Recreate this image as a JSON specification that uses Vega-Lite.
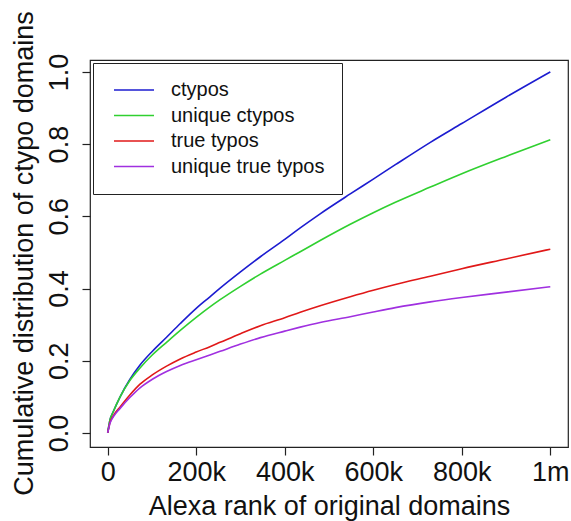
{
  "$schema": "https://vega.github.io/schema/vega-lite/v6.json",
  "autosize": {"type": "none"},
  "width": 478,
  "height": 387,
  "padding": {"left": 90, "top": 60, "right": 3, "bottom": 74},
  "background": "white",
  "config": {
    "view": {"stroke": "#222222", "strokeWidth": 1.2},
    "font": "Liberation Sans",
    "axis": {"grid": false, "domain": false, "tickColor": "#222222", "tickSize": 8, "tickWidth": 1.2,
             "labelFont": "Liberation Sans", "titleFont": "Liberation Sans",
             "labelFontSize": 27, "titleFontSize": 27, "labelColor": "#111111", "titleColor": "#111111",
             "titleFontWeight": "normal"}
  },
  "datasets": {
    "curves": [
      {"rank": 0, "frac": 0, "series": "ctypos"},
      {"rank": 5000, "frac": 0.035, "series": "ctypos"},
      {"rank": 13000, "frac": 0.06, "series": "ctypos"},
      {"rank": 28000, "frac": 0.10, "series": "ctypos"},
      {"rank": 50000, "frac": 0.148, "series": "ctypos"},
      {"rank": 73000, "frac": 0.188, "series": "ctypos"},
      {"rank": 100000, "frac": 0.225, "series": "ctypos"},
      {"rank": 133000, "frac": 0.265, "series": "ctypos"},
      {"rank": 164000, "frac": 0.303, "series": "ctypos"},
      {"rank": 200000, "frac": 0.345, "series": "ctypos"},
      {"rank": 231000, "frac": 0.377, "series": "ctypos"},
      {"rank": 254000, "frac": 0.401, "series": "ctypos"},
      {"rank": 300000, "frac": 0.446, "series": "ctypos"},
      {"rank": 345000, "frac": 0.488, "series": "ctypos"},
      {"rank": 400000, "frac": 0.536, "series": "ctypos"},
      {"rank": 435000, "frac": 0.568, "series": "ctypos"},
      {"rank": 480000, "frac": 0.607, "series": "ctypos"},
      {"rank": 548000, "frac": 0.662, "series": "ctypos"},
      {"rank": 600000, "frac": 0.703, "series": "ctypos"},
      {"rank": 650000, "frac": 0.743, "series": "ctypos"},
      {"rank": 729000, "frac": 0.805, "series": "ctypos"},
      {"rank": 800000, "frac": 0.857, "series": "ctypos"},
      {"rank": 900000, "frac": 0.93, "series": "ctypos"},
      {"rank": 1000000, "frac": 1.0, "series": "ctypos"},

      {"rank": 0, "frac": 0, "series": "unique ctypos"},
      {"rank": 5000, "frac": 0.035, "series": "unique ctypos"},
      {"rank": 13000, "frac": 0.06, "series": "unique ctypos"},
      {"rank": 28000, "frac": 0.10, "series": "unique ctypos"},
      {"rank": 50000, "frac": 0.145, "series": "unique ctypos"},
      {"rank": 73000, "frac": 0.18, "series": "unique ctypos"},
      {"rank": 100000, "frac": 0.215, "series": "unique ctypos"},
      {"rank": 133000, "frac": 0.251, "series": "unique ctypos"},
      {"rank": 164000, "frac": 0.284, "series": "unique ctypos"},
      {"rank": 200000, "frac": 0.32, "series": "unique ctypos"},
      {"rank": 231000, "frac": 0.349, "series": "unique ctypos"},
      {"rank": 254000, "frac": 0.369, "series": "unique ctypos"},
      {"rank": 300000, "frac": 0.406, "series": "unique ctypos"},
      {"rank": 345000, "frac": 0.44, "series": "unique ctypos"},
      {"rank": 400000, "frac": 0.478, "series": "unique ctypos"},
      {"rank": 435000, "frac": 0.502, "series": "unique ctypos"},
      {"rank": 480000, "frac": 0.533, "series": "unique ctypos"},
      {"rank": 548000, "frac": 0.578, "series": "unique ctypos"},
      {"rank": 600000, "frac": 0.61, "series": "unique ctypos"},
      {"rank": 650000, "frac": 0.639, "series": "unique ctypos"},
      {"rank": 729000, "frac": 0.681, "series": "unique ctypos"},
      {"rank": 800000, "frac": 0.718, "series": "unique ctypos"},
      {"rank": 900000, "frac": 0.766, "series": "unique ctypos"},
      {"rank": 1000000, "frac": 0.812, "series": "unique ctypos"},

      {"rank": 0, "frac": 0, "series": "true typos"},
      {"rank": 5000, "frac": 0.028, "series": "true typos"},
      {"rank": 13000, "frac": 0.048, "series": "true typos"},
      {"rank": 28000, "frac": 0.072, "series": "true typos"},
      {"rank": 50000, "frac": 0.105, "series": "true typos"},
      {"rank": 73000, "frac": 0.135, "series": "true typos"},
      {"rank": 100000, "frac": 0.16, "series": "true typos"},
      {"rank": 133000, "frac": 0.185, "series": "true typos"},
      {"rank": 164000, "frac": 0.205, "series": "true typos"},
      {"rank": 200000, "frac": 0.224, "series": "true typos"},
      {"rank": 231000, "frac": 0.239, "series": "true typos"},
      {"rank": 254000, "frac": 0.251, "series": "true typos"},
      {"rank": 300000, "frac": 0.275, "series": "true typos"},
      {"rank": 345000, "frac": 0.297, "series": "true typos"},
      {"rank": 400000, "frac": 0.319, "series": "true typos"},
      {"rank": 435000, "frac": 0.334, "series": "true typos"},
      {"rank": 480000, "frac": 0.352, "series": "true typos"},
      {"rank": 548000, "frac": 0.377, "series": "true typos"},
      {"rank": 600000, "frac": 0.395, "series": "true typos"},
      {"rank": 650000, "frac": 0.411, "series": "true typos"},
      {"rank": 729000, "frac": 0.434, "series": "true typos"},
      {"rank": 800000, "frac": 0.455, "series": "true typos"},
      {"rank": 900000, "frac": 0.482, "series": "true typos"},
      {"rank": 1000000, "frac": 0.509, "series": "true typos"},

      {"rank": 0, "frac": 0, "series": "unique true typos"},
      {"rank": 5000, "frac": 0.026, "series": "unique true typos"},
      {"rank": 13000, "frac": 0.045, "series": "unique true typos"},
      {"rank": 28000, "frac": 0.068, "series": "unique true typos"},
      {"rank": 50000, "frac": 0.098, "series": "unique true typos"},
      {"rank": 73000, "frac": 0.125, "series": "unique true typos"},
      {"rank": 100000, "frac": 0.148, "series": "unique true typos"},
      {"rank": 133000, "frac": 0.17, "series": "unique true typos"},
      {"rank": 164000, "frac": 0.187, "series": "unique true typos"},
      {"rank": 200000, "frac": 0.203, "series": "unique true typos"},
      {"rank": 231000, "frac": 0.216, "series": "unique true typos"},
      {"rank": 254000, "frac": 0.226, "series": "unique true typos"},
      {"rank": 300000, "frac": 0.246, "series": "unique true typos"},
      {"rank": 345000, "frac": 0.264, "series": "unique true typos"},
      {"rank": 400000, "frac": 0.282, "series": "unique true typos"},
      {"rank": 435000, "frac": 0.293, "series": "unique true typos"},
      {"rank": 480000, "frac": 0.306, "series": "unique true typos"},
      {"rank": 548000, "frac": 0.322, "series": "unique true typos"},
      {"rank": 600000, "frac": 0.335, "series": "unique true typos"},
      {"rank": 650000, "frac": 0.347, "series": "unique true typos"},
      {"rank": 729000, "frac": 0.363, "series": "unique true typos"},
      {"rank": 800000, "frac": 0.375, "series": "unique true typos"},
      {"rank": 900000, "frac": 0.39, "series": "unique true typos"},
      {"rank": 1000000, "frac": 0.405, "series": "unique true typos"}
    ]
  },
  "data": {"name": "curves"},
  "mark": {"type": "line", "strokeWidth": 1.6, "interpolate": "monotone"},
  "encoding": {
    "x": {
      "field": "rank", "type": "quantitative",
      "scale": {"domain": [-40000, 1040000], "nice": false, "zero": false},
      "axis": {
        "values": [0, 200000, 400000, 600000, 800000, 1000000],
        "labelExpr": "datum.value == 0 ? '0' : (datum.value == 1000000 ? '1m' : (datum.value / 1000) + 'k')",
        "labelBaseline": "alphabetic", "labelPadding": 25, "labelAlign": "center",
        "title": "Alexa rank of original domains",
        "titleBaseline": "alphabetic", "titleX": 239, "titleY": 67, "titleAlign": "center"
      }
    },
    "y": {
      "field": "frac", "type": "quantitative",
      "scale": {"domain": [-0.039, 1.033], "nice": false, "zero": false},
      "axis": {
        "values": [0, 0.2, 0.4, 0.6, 0.8, 1.0],
        "format": ".1f",
        "labelAngle": 270, "labelAlign": "center", "labelBaseline": "alphabetic", "labelPadding": 15,
        "title": "Cumulative distribution of ctypo domains",
        "titleAngle": 270, "titleAlign": "center", "titleBaseline": "alphabetic",
        "titleX": -58, "titleY": 193
      }
    },
    "color": {
      "field": "series", "type": "nominal",
      "scale": {
        "domain": ["ctypos", "unique ctypos", "true typos", "unique true typos"],
        "range": ["#1c1cd0", "#30d030", "#e01818", "#a030e0"]
      },
      "legend": {
        "title": null, "orient": "none", "legendX": 3, "legendY": 3,
        "padding": 17, "strokeColor": "#222222", "fillColor": "white",
        "symbolType": "M-1.2,0H6.8", "symbolSize": 100, "symbolStrokeWidth": 1.6,
        "labelFont": "Liberation Sans", "labelFontSize": 20, "labelColor": "#111111",
        "labelOffset": 41, "rowPadding": 5.5, "labelLimit": 400
      }
    }
  }
}
